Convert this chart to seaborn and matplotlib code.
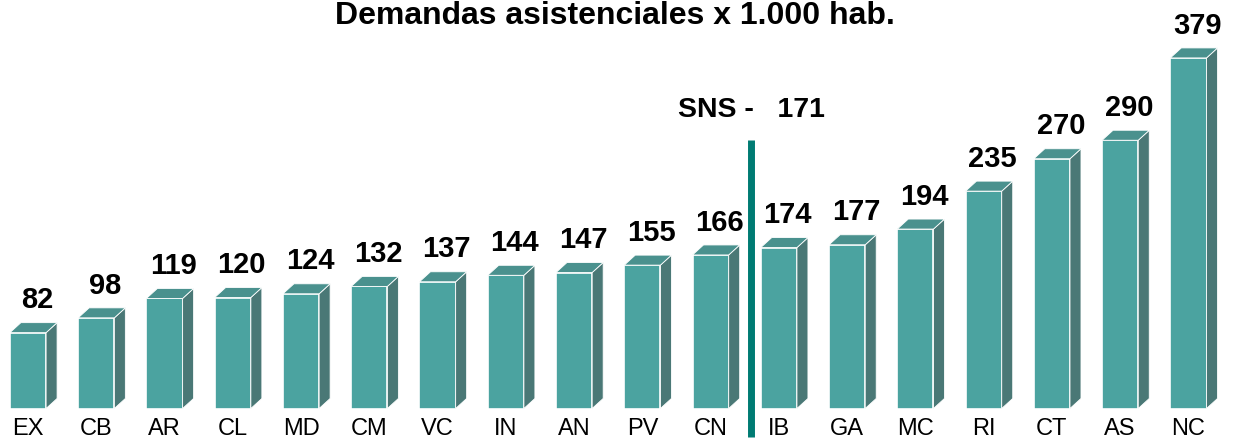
import matplotlib
matplotlib.use("Agg")
import matplotlib.pyplot as plt
from matplotlib.patches import Polygon
import seaborn as sns

# Data
regions = ["EX", "CB", "AR", "CL", "MD", "CM", "VC", "IN", "AN",
           "PV", "CN", "IB", "GA", "MC", "RI", "CT", "AS", "NC"]
demandas = [82, 98, 119, 120, 124, 132, 137, 144, 147,
            155, 166, 174, 177, 194, 235, 270, 290, 379]
sns_media = 171

front_color = "#4ba3a0"
top_color = "#4a918e"
side_color = "#4a7876"
line_color = "#007b73"

sns.set_style("white")
plt.rcParams["font.family"] = ["Liberation Sans", "DejaVu Sans"]
plt.rcParams["text.color"] = "black"
plt.rcParams["xtick.color"] = "black"

W, H = 1236, 443
fig = plt.figure(figsize=(W / 100, H / 100), dpi=100)
base_px = 408.5
ax = fig.add_axes([0, (H - base_px) / H, 1, base_px / H])

sns.barplot(x=regions, y=demandas, color=front_color, width=0.53,
            edgecolor="white", linewidth=1.2, saturation=1, ax=ax)

# scale: one category step ~68.26 px, one unit ~0.925 px
step_px = 68.26
unit_px = 0.925
ax.set_xlim(-28 / step_px, (W - 28) / step_px)
ax.set_ylim(0, base_px / unit_px)

dx = 11 / step_px
dy = 10 / unit_px

# 3D look: top and side faces
for bar in list(ax.patches):
    x0 = bar.get_x()
    w = bar.get_width()
    h = bar.get_height()
    side = Polygon([(x0 + w, 0), (x0 + w + dx, dy), (x0 + w + dx, h + dy), (x0 + w, h)],
                   closed=True, facecolor=side_color, edgecolor="white", linewidth=0.6)
    top = Polygon([(x0, h), (x0 + w, h), (x0 + w + dx, h + dy), (x0 + dx, h + dy)],
                  closed=True, facecolor=top_color, edgecolor="white", linewidth=0.6)
    ax.add_patch(side)
    ax.add_patch(top)

# value labels
for i, v in enumerate(demandas):
    ax.annotate(f"{v}", (i + 0.13, v + dy), xytext=(0, 6), textcoords="offset points",
                ha="center", va="bottom", fontsize=21, fontweight="bold", color="black")

# SNS average marker
line_x = (751 - 28) / step_px
ax.axvline(line_x, ymin=-(437 - base_px) / base_px, ymax=(base_px - 140) / base_px,
           color=line_color, linewidth=5, clip_on=False, solid_capstyle="butt")
fig.text(751 / W, 1 - 110 / H, f"SNS -   {sns_media}", ha="center", va="center",
         fontsize=20.5, fontweight="bold")

fig.text(615 / W, 1 - 16 / H, "Demandas asistenciales x 1.000 hab.", ha="center",
         va="center", fontsize=23, fontweight="bold")

ax.set_xlabel("")
ax.set_ylabel("")
ax.set_yticks([])
ax.tick_params(axis="x", length=0, pad=7, labelsize=17)
sns.despine(ax=ax, left=True, bottom=True)

fig.savefig("out.png", dpi=100)
